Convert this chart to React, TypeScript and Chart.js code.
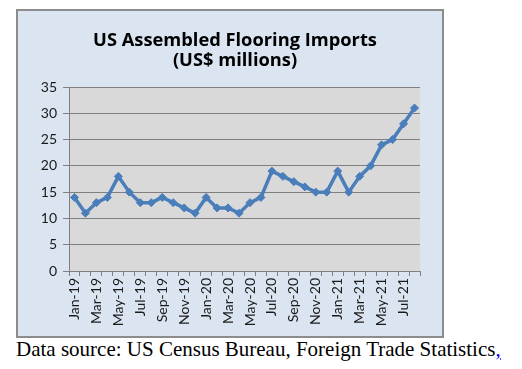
import React, { useEffect, useRef } from "react";
import { Chart, registerables } from "chart.js";

Chart.register(...registerables);

const months = [
  "Jan-19", "Feb-19", "Mar-19", "Apr-19", "May-19", "Jun-19", "Jul-19", "Aug-19",
  "Sep-19", "Oct-19", "Nov-19", "Dec-19", "Jan-20", "Feb-20", "Mar-20", "Apr-20",
  "May-20", "Jun-20", "Jul-20", "Aug-20", "Sep-20", "Oct-20", "Nov-20", "Dec-20",
  "Jan-21", "Feb-21", "Mar-21", "Apr-21", "May-21", "Jun-21", "Jul-21", "Aug-21",
];
const tickLabels = months.map((m, i) => (i % 2 === 0 ? m : ""));
const imports = [
  14, 11, 13, 14, 18, 15, 13, 13,
  14, 13, 12, 11, 14, 12, 12, 11,
  13, 14, 19, 18, 17, 16, 15, 15,
  19, 15, 18, 20, 24, 25, 28, 31,
];
const titleLines = ["US Assembled Flooring Imports", "(US$ millions)"];
const yMin = 0;
const yMax = 35;
const yStep = 5;

const plotBg = {
  id: "plotBg",
  beforeDraw(chart: any) {
    const { ctx, chartArea } = chart;
    ctx.save();
    ctx.fillStyle = "#d9d9d9";
    ctx.fillRect(chartArea.left, chartArea.top, chartArea.right - chartArea.left, chartArea.bottom - chartArea.top);
    ctx.restore();
  },
};

const chartTitle = {
  id: "chartTitle",
  afterDraw(chart: any) {
    const { ctx } = chart;
    ctx.save();
    ctx.fillStyle = "#000";
    ctx.font = "bold 18.3px 'Open Sans', Lato, sans-serif";
    ctx.textAlign = "center";
    ctx.textBaseline = "alphabetic";
    const cx = 217;
    titleLines.forEach((line, i) => {
      ctx.fillText(line, cx, 34.5 + i * 20.5);
    });
    ctx.restore();
  },
};

export default function App() {
  const ref = useRef<HTMLCanvasElement>(null);
  useEffect(() => {
    if (!ref.current) return;
    const chart = new Chart(ref.current, {
      type: "line",
      data: {
        labels: months,
        datasets: [
          {
            data: imports,
            borderColor: "#4a7ebb",
            backgroundColor: "#4a7ebb",
            borderWidth: 3.5,
            pointStyle: "rectRot",
            pointRadius: 4,
            pointBorderWidth: 1,
            tension: 0,
          },
        ],
      },
      plugins: [plotBg, chartTitle],
      options: {
        animation: false,
        responsive: false,
        maintainAspectRatio: false,
        layout: { padding: { left: 0, right: 22, top: 76, bottom: 0 } },
        plugins: {
          legend: { display: false },
          tooltip: { enabled: false },
          title: { display: false },
        },
        scales: {
          x: {
            offset: true,
            grid: {
              display: true,
              offset: true,
              drawOnChartArea: false,
              drawTicks: true,
              tickLength: 5,
              color: "#808080",
            },
            border: { display: true, color: "#808080", width: 1 },
            ticks: {
              autoSkip: false,
              minRotation: 90,
              maxRotation: 90,
              padding: 2,
              color: "#1a1a1a",
              font: { family: "Lato, sans-serif", size: 14 },
              callback: (_v: any, i: number) => tickLabels[i],
            },
            afterFit: (s: any) => {
              s.height = 65;
            },
          },
          y: {
            min: yMin,
            max: yMax,
            grid: { color: "#808080", tickLength: 6, lineWidth: 1 },
            border: { display: true, color: "#808080", width: 1 },
            ticks: {
              stepSize: yStep,
              padding: 6,
              color: "#1a1a1a",
              font: { family: "Lato, sans-serif", size: 14 },
            },
            afterFit: (s: any) => {
              s.width = 51;
            },
          },
        },
      },
    });
    return () => chart.destroy();
  }, []);

  return (
    <div>
      <div
        style={{
          marginLeft: 8,
          marginTop: 1,
          width: 424,
          height: 325,
          border: "2px solid #8c8c8c",
          background: "#dbe5f1",
        }}
      >
        <canvas ref={ref} width={424} height={325} style={{ display: "block" }} />
      </div>
      <div
        style={{
          fontFamily: "'Liberation Serif', 'Times New Roman', serif",
          fontSize: 21,
          color: "#000",
          marginTop: 0,
          marginLeft: 8,
          whiteSpace: "nowrap",
          lineHeight: "23px",
        }}
      >
        Data source: US Census Bureau, Foreign Trade Statistics
        <a href="#" style={{ color: "#0000ee", textDecoration: "underline" }}>,</a>
      </div>
    </div>
  );
}
